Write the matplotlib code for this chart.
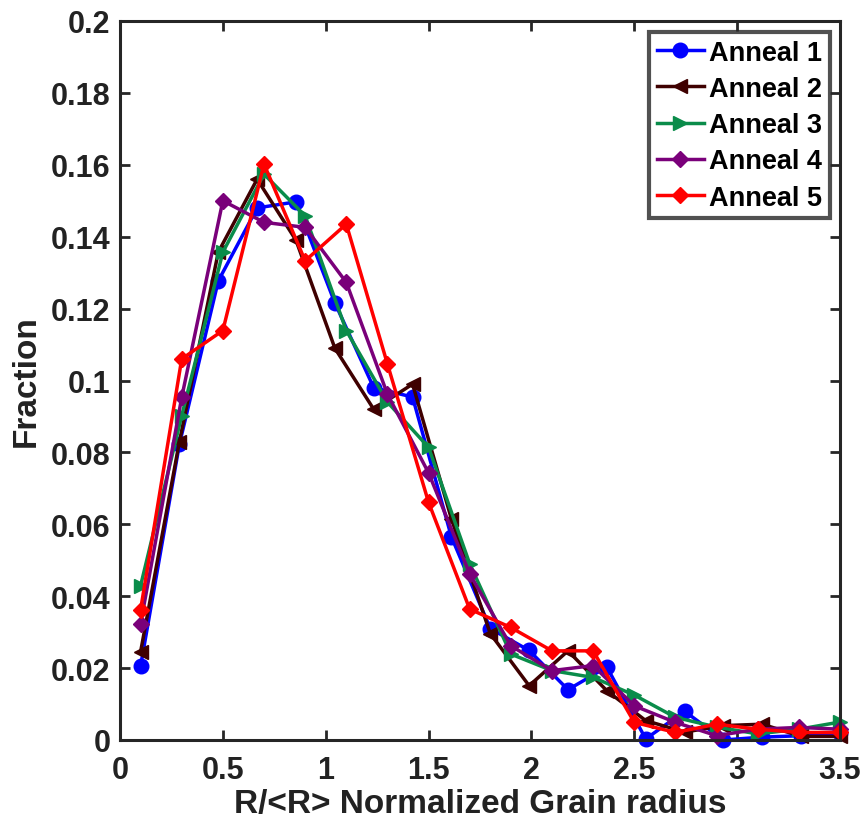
import numpy as np
import matplotlib
matplotlib.use("Agg")
import matplotlib.pyplot as plt

plt.rcParams['font.family'] = ['Liberation Sans', 'DejaVu Sans']
plt.rcParams['font.weight'] = 'bold'

x_a = np.linspace(0.1, 3.5, 19)
x_b = np.round(np.arange(0.1, 3.51, 0.2), 2)

anneal1 = [0.0205, 0.0823, 0.1277, 0.148, 0.1497, 0.1216, 0.098, 0.0954, 0.0565, 0.031,
           0.0249, 0.014, 0.0203, 0.0003, 0.008, 0.0, 0.0008, 0.0012, 0.002]
anneal2 = [0.0245, 0.083, 0.1357, 0.156, 0.139, 0.109, 0.092, 0.099, 0.0615, 0.0296,
           0.0151, 0.0248, 0.0137, 0.0054, 0.0022, 0.004, 0.0044, 0.001, 0.001]
anneal3 = [0.0429, 0.0902, 0.1357, 0.1574, 0.1458, 0.1139, 0.094, 0.0814, 0.049, 0.0239,
           0.0193, 0.0174, 0.0125, 0.0063, 0.0036, 0.0017, 0.003, 0.005]
anneal4 = [0.0323, 0.0953, 0.15, 0.144, 0.1426, 0.1273, 0.0962, 0.0743, 0.0462, 0.0262,
           0.0193, 0.0207, 0.0095, 0.0049, 0.0012, 0.003, 0.0035, 0.003]
anneal5 = [0.0362, 0.106, 0.1139, 0.1602, 0.1333, 0.1435, 0.1046, 0.0661, 0.0364, 0.0313,
           0.0248, 0.0248, 0.0049, 0.0021, 0.0044, 0.003, 0.0021, 0.0021]

labels = ['Anneal 1', 'Anneal 2', 'Anneal 3', 'Anneal 4', 'Anneal 5']
colors = ['#0000ff', '#3f0000', '#0a8c4a', '#7a007a', '#ff0000']
markers = ['o', '<', '>', 'D', 'D']
msizes = [10.5, 10.5, 10.5, 8.5, 8.5]

fig = plt.figure(figsize=(8.64, 8.29), dpi=100)
ax = fig.add_axes([120/864, 1-741/829, 720/864, 719/829])

series = [(x_a, anneal1), (x_a, anneal2), (x_b, anneal3), (x_b, anneal4), (x_b, anneal5)]
for (xs, ys), lab, c, m, ms in zip(series, labels, colors, markers, msizes):
    ax.plot(xs, ys, color=c, marker=m, markersize=ms, linewidth=2.5, label=lab,
            markeredgecolor=c, markerfacecolor=c, clip_on=False)

ax.set_xlim(0, 3.5)
ax.set_ylim(0, 0.2)
ax.set_xticks(np.arange(0, 3.51, 0.5))
ax.set_xticklabels(['0', '0.5', '1', '1.5', '2', '2.5', '3', '3.5'])
yt = np.round(np.arange(0, 0.201, 0.02), 2)
ax.set_yticks(yt)
ax.set_yticklabels(['0'] + [('%g' % v) for v in yt[1:]])
ax.tick_params(direction='in', length=7, width=2, top=True, right=True,
               labelsize=22, colors='#262626', pad=7)
ax.tick_params(axis='x', pad=11)
for lab in ax.get_xticklabels() + ax.get_yticklabels():
    lab.set_fontweight('bold')
    lab.set_color('#222222')
for s in ax.spines.values():
    s.set_linewidth(2.2)
    s.set_color('#262626')

ax.set_xlabel('R/<R> Normalized Grain radius', fontsize=24, fontweight='bold', labelpad=2,
              color='#222222')
ax.set_ylabel('Fraction', fontsize=24, fontweight='bold', labelpad=6, color='#222222')

leg = ax.legend(loc='upper right', bbox_to_anchor=(1.0 - 10/720, 1.0 - 11/719),
                fontsize=19.5, frameon=True, fancybox=False, handlelength=1.75,
                handletextpad=0.2, borderpad=0.28, labelspacing=0.38, borderaxespad=0)
leg.get_frame().set_edgecolor('#262626')
leg.get_frame().set_linewidth(3)
for t in leg.get_texts():
    t.set_fontweight('bold')

fig.savefig('out.png', dpi=100)
